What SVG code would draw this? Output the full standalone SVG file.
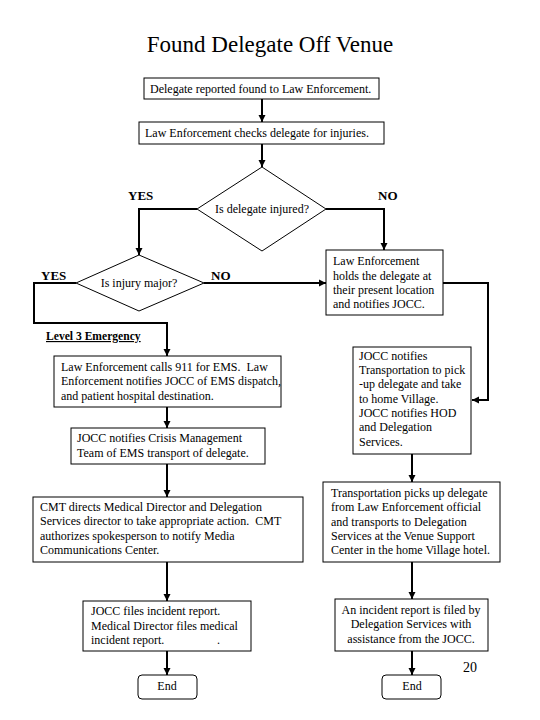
<svg xmlns="http://www.w3.org/2000/svg" width="540" height="720" viewBox="0 0 540 720" font-family="'Liberation Serif', 'Times New Roman', 'DejaVu Serif', serif">
<style>
text{font-family:"Liberation Serif","Times New Roman","DejaVu Serif",serif;font-size:12px;fill:#000;white-space:pre}
.box{fill:#fff;stroke:#000;stroke-width:1}
.c{fill:none;stroke:#000;stroke-width:2}
.lbl{font-weight:bold;font-size:13px}
.mid{text-anchor:middle}
.title{font-size:23px}
.lvl{font-weight:bold;font-size:11.6px;text-decoration:underline}
.pg{font-size:14px}
</style>
<defs>
<marker id="ah" markerUnits="userSpaceOnUse" markerWidth="8" markerHeight="8" refX="7" refY="4" orient="auto">
<path d="M0,0.5 L7,4 L0,7.5 Z" fill="#000"/>
</marker>
</defs>
<rect width="540" height="720" fill="#fff"/>
<text x="270" y="52" class="mid title">Found Delegate Off Venue</text>
<g id="connectors">
<path class="c" marker-end="url(#ah)" d="M262,99 V122"/>
<path class="c" marker-end="url(#ah)" d="M262,144 V167"/>
<path class="c" marker-end="url(#ah)" d="M197,209 H139 V255"/>
<path class="c" marker-end="url(#ah)" d="M326,209 H384 V250"/>
<path class="c" marker-end="url(#ah)" d="M204,283 H326"/>
<path class="c" marker-end="url(#ah)" d="M76,283 H34 V323 H167 V356"/>
<path class="c" marker-end="url(#ah)" d="M443,283 H488 V400 H472"/>
<path class="c" marker-end="url(#ah)" d="M167,407 V428"/>
<path class="c" marker-end="url(#ah)" d="M167,464 V497"/>
<path class="c" marker-end="url(#ah)" d="M167,562 V601"/>
<path class="c" marker-end="url(#ah)" d="M167,651 V675"/>
<path class="c" marker-end="url(#ah)" d="M412,454 V482"/>
<path class="c" marker-end="url(#ah)" d="M412,562 V599"/>
<path class="c" marker-end="url(#ah)" d="M412,651 V675"/>
<text x="128" y="200" class="lbl">YES</text>
<text x="378" y="200" class="lbl">NO</text>
<text x="41" y="280" class="lbl">YES</text>
<text x="211" y="280" class="lbl">NO</text>
<text x="46" y="340" class="lvl">Level 3 Emergency</text>
</g>
<g id="n1"><rect class="box" x="144" y="78" width="235" height="21"/><text x="150" y="93">Delegate reported found to Law Enforcement.</text></g>
<g id="n2"><rect class="box" x="139" y="122" width="245" height="22"/><text x="145" y="137">Law Enforcement checks delegate for injuries.</text></g>
<g id="d1"><path class="box" d="M262,167 L326,209 L262,251 L197,209 Z"/><text x="262" y="213" class="mid">Is delegate injured?</text></g>
<g id="d2"><path class="box" d="M139,255 L204,283 L139,311 L76,283 Z"/><text x="139" y="287" class="mid">Is injury major?</text></g>
<g id="n3"><rect class="box" x="326" y="250" width="117" height="65"/>
<text x="333" y="265">Law Enforcement</text><text x="333" y="280">holds the delegate at</text><text x="333" y="294">their present location</text><text x="333" y="308">and notifies JOCC.</text></g>
<g id="n4"><rect class="box" x="54" y="356" width="227" height="51"/>
<text x="61" y="371">Law Enforcement calls 911 for EMS.  Law</text><text x="61" y="385">Enforcement notifies JOCC of EMS dispatch,</text><text x="61" y="400">and patient hospital destination.</text></g>
<g id="n5"><rect class="box" x="71" y="428" width="194" height="36"/>
<text x="77" y="442">JOCC notifies Crisis Management</text><text x="77" y="457">Team of EMS transport of delegate.</text></g>
<g id="n6"><rect class="box" x="353" y="347" width="118" height="107"/>
<text x="359" y="360">JOCC notifies</text><text x="359" y="374">Transportation to pick</text><text x="359" y="388">-up delegate and take</text><text x="359" y="403">to home Village.</text><text x="359" y="417">JOCC notifies HOD</text><text x="359" y="431">and Delegation</text><text x="359" y="446">Services.</text></g>
<g id="n7"><rect class="box" x="33" y="497" width="270" height="65"/>
<text x="40" y="511">CMT directs Medical Director and Delegation</text><text x="40" y="525">Services director to take appropriate action.  CMT</text><text x="40" y="540">authorizes spokesperson to notify Media</text><text x="40" y="554">Communications Center.</text></g>
<g id="n8"><rect class="box" x="323" y="482" width="177" height="80"/>
<text x="331" y="497">Transportation picks up delegate</text><text x="331" y="511">from Law Enforcement official</text><text x="331" y="526">and transports to Delegation</text><text x="331" y="540">Services at the Venue Support</text><text x="331" y="554">Center in the home Village hotel.</text></g>
<g id="n9"><rect class="box" x="83" y="601" width="168" height="50"/>
<text x="91" y="615">JOCC files incident report.</text><text x="91" y="630">Medical Director files medical</text><text x="91" y="644">incident report.</text><text x="217" y="644">.</text></g>
<g id="n10"><rect class="box" x="335" y="599" width="153" height="52"/>
<text x="411" y="614" class="mid">An incident report is filed by</text><text x="411" y="628" class="mid">Delegation Services with</text><text x="411" y="643" class="mid">assistance from the JOCC.</text></g>
<g id="e1"><rect class="box" x="138" y="675" width="59" height="24" rx="4"/><text x="167" y="690" class="mid">End</text></g>
<g id="e2"><rect class="box" x="382" y="675" width="59" height="24" rx="4"/><text x="412" y="690" class="mid">End</text></g>
<text x="463" y="672" class="pg">20</text>
</svg>
